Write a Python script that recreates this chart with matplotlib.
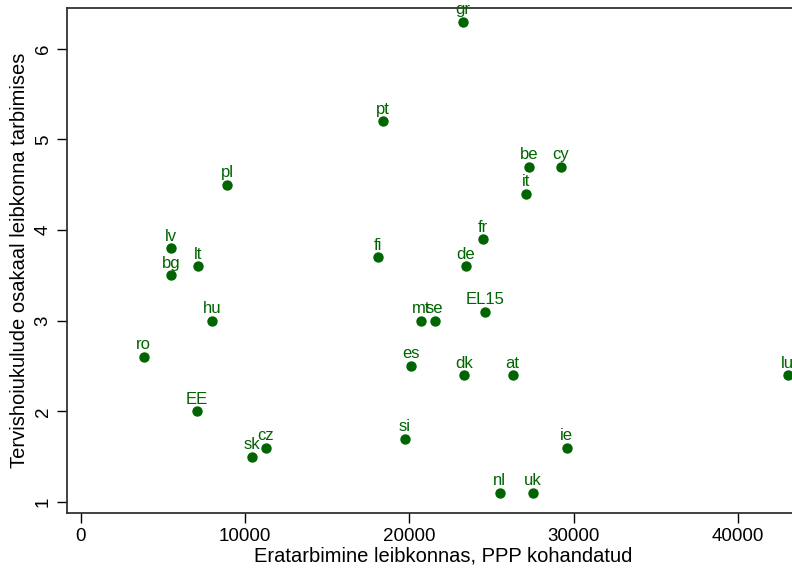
import matplotlib.pyplot as plt

# =================== Data ===================
labels = ['gr', 'pt', 'pl', 'lv', 'bg', 'lt', 'fi', 'be', 'cy', 'it', 'fr', 'de',
          'EL15', 'mt', 'se', 'hu', 'ro', 'es', 'dk', 'at', 'lu', 'EE', 'si', 'ie',
          'sk', 'cz', 'nl', 'uk']
consumption = [23250, 18380, 8890, 5480, 5480, 7120, 18080, 27270, 29200, 27090, 24470, 23430,
               24590, 20690, 21540, 7970, 3830, 20090, 23310, 26290, 43030, 7060, 19720, 29580,
               10410, 11260, 25500, 27510]
health_share = [6.3, 5.2, 4.5, 3.8, 3.5, 3.6, 3.7, 4.7, 4.7, 4.4, 3.9, 3.6,
                3.1, 3.0, 3.0, 3.0, 2.6, 2.5, 2.4, 2.4, 2.4, 2.0, 1.7, 1.6,
                1.5, 1.6, 1.1, 1.1]

xticks = [0, 10000, 20000, 30000, 40000]
yticks = [1, 2, 3, 4, 5, 6]

green = '#006400'
plt.rcParams['font.family'] = ['Liberation Sans', 'DejaVu Sans']

# =================== Plot ===================
fig = plt.figure(figsize=(7.92, 5.73), dpi=100)
# plot region runs past the right edge, as in the original export
ax = fig.add_axes([67 / 792, 60 / 573, 753 / 792, 505 / 573])

ax.scatter(consumption, health_share, s=42, color=green, zorder=3)
for lab, x, y in zip(labels, consumption, health_share):
    ax.annotate(lab, (x, y), xytext=(0, 5.5), textcoords='offset points',
                ha='center', va='baseline', fontsize=12, color=green)

ax.set_xlim(-850, 45000)
ax.set_ylim(0.88, 6.45)
ax.set_xticks(xticks)
ax.set_yticks(yticks)
ax.tick_params(axis='both', direction='out', length=7, width=1, labelsize=13.5, pad=4)
plt.setp(ax.get_yticklabels(), rotation=90, va='center')

for side in ax.spines.values():
    side.set_linewidth(1.3)
    side.set_color('#333333')

ax.set_xlabel('Eratarbimine leibkonnas, PPP kohandatud', fontsize=14.5, labelpad=1)
ax.set_ylabel('Tervishoiukulude osakaal leibkonna tarbimises', fontsize=14.5, labelpad=4)

fig.savefig('out.png', dpi=100)
